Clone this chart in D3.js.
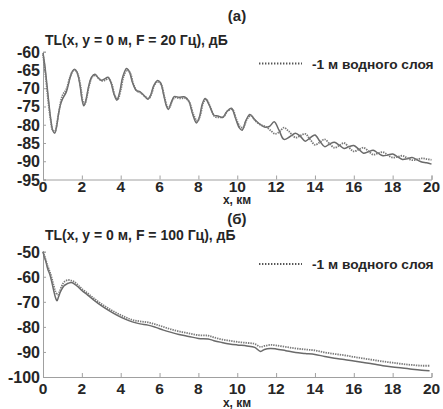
<!DOCTYPE html>
<html><head><meta charset="utf-8">
<script src="https://cdn.jsdelivr.net/npm/d3@7"></script>
<style>
html,body{margin:0;padding:0;background:#fff;}
svg text{font-family:"Liberation Sans",Arial,sans-serif;font-weight:bold;fill:#262626;}
</style></head>
<body>
<svg id="c" width="443" height="409"></svg>
<script>
// ---------- DATA ----------
const xTicks = [0,2,4,6,8,10,12,14,16,18,20];
const yTicksA = [-60,-65,-70,-75,-80,-85,-90,-95];
const yTicksB = [-50,-60,-70,-80,-90,-100];
const legendLabel = "-1 м водного слоя";
const titleA = "TL(x, y = 0 м, F = 20 Гц), дБ";
const titleB = "TL(x, y = 0 м, F = 100 Гц), дБ";
const panelA = "(а)";
const panelB = "(б)";
const xLabel = "x, км";

// 20 Hz, base
const tl20Solid = [
[0,-60.3],[0.1,-64],[0.2,-69],[0.3,-74],[0.4,-78.5],[0.5,-81.5],[0.6,-82.3],[0.7,-80.5],[0.8,-77],[0.9,-74.5],[1.0,-73],[1.2,-71],[1.4,-67],[1.5,-65.5],[1.62,-64.8],[1.75,-65.6],[1.9,-69],[2.0,-72.8],[2.1,-74.8],[2.2,-73.5],[2.35,-69.5],[2.5,-67],[2.67,-66.2],[2.85,-67.2],[3.0,-67.8],[3.15,-67.5],[3.35,-67],[3.5,-68.5],[3.65,-71.5],[3.8,-73.3],[3.95,-71],[4.1,-67],[4.3,-64.6],[4.45,-65.5],[4.6,-68.3],[4.8,-70.6],[5.0,-71],[5.2,-72],[5.4,-73],[5.55,-71.8],[5.7,-69.3],[5.9,-67.9],[6.05,-68.5],[6.2,-71.5],[6.35,-74.8],[6.45,-75.8],[6.6,-74],[6.75,-72.3],[7.0,-72.5],[7.3,-72.4],[7.5,-73.5],[7.7,-77],[7.9,-79.5],[8.05,-78],[8.2,-74.3],[8.35,-72.8],[8.55,-74.5],[8.8,-77.4],[9.0,-77.6],[9.25,-78],[9.45,-76.5],[9.7,-75.5],[9.9,-78],[10.1,-80.8],[10.25,-81.5],[10.45,-78.8],[10.65,-77.2],[10.9,-78.6],[11.15,-79.8],[11.4,-80.6],[11.65,-80.5],[11.9,-79.2],[12.15,-81.5],[12.4,-84],[12.7,-83.3],[13.0,-82.3],[13.25,-83.2],[13.5,-84.5],[13.75,-83.6],[14.0,-82.8],[14.25,-84.5],[14.5,-86],[14.75,-85.3],[15.0,-84.8],[15.25,-85.6],[15.5,-86.5],[15.75,-86],[16.0,-85.7],[16.25,-86.7],[16.5,-87.8],[16.75,-87.4],[17.0,-87],[17.25,-87.8],[17.5,-88.5],[17.75,-88.3],[18.0,-88],[18.25,-88.8],[18.5,-89.5],[18.75,-89.3],[19.0,-89],[19.25,-89.6],[19.5,-90.2],[19.75,-90.4],[20.0,-90.8]
];
// 20 Hz, -1 m water layer
const tl20Dotted = [
[0,-60.8],[0.1,-65],[0.2,-70],[0.3,-75],[0.4,-79],[0.5,-81.5],[0.62,-81.8],[0.72,-79.5],[0.85,-75.5],[1.0,-72],[1.2,-70.3],[1.4,-66.8],[1.55,-65.2],[1.65,-65],[1.8,-66.3],[1.95,-70],[2.05,-73.5],[2.15,-74.3],[2.25,-72.5],[2.4,-68.8],[2.55,-66.8],[2.7,-66.5],[2.9,-67.5],[3.05,-68],[3.2,-67.8],[3.38,-67.3],[3.55,-69],[3.7,-72],[3.85,-73],[4.0,-70.5],[4.15,-66.8],[4.33,-65],[4.5,-66],[4.65,-68.8],[4.85,-70.8],[5.05,-71.3],[5.25,-72.3],[5.45,-72.8],[5.6,-71.3],[5.75,-69],[5.92,-68.2],[6.1,-69.2],[6.25,-72.3],[6.4,-75],[6.5,-75.3],[6.65,-73.5],[6.8,-72.5],[7.05,-72.8],[7.35,-72.8],[7.55,-74],[7.75,-77.3],[7.95,-79],[8.1,-77.3],[8.25,-74],[8.4,-73],[8.6,-75],[8.85,-77.8],[9.05,-78],[9.3,-77.8],[9.5,-76.2],[9.75,-75.8],[9.95,-78.5],[10.15,-80.5],[10.3,-80.8],[10.5,-78.5],[10.7,-77.5],[10.95,-79],[11.2,-80],[11.45,-80.5],[11.7,-81.5],[11.95,-82.5],[12.2,-81.8],[12.4,-80.8],[12.65,-81.8],[13.0,-83.5],[13.25,-83],[13.5,-82.5],[13.75,-84],[14.0,-85.5],[14.25,-84.8],[14.5,-84],[14.75,-85.2],[15.0,-86.3],[15.25,-85.7],[15.5,-85],[15.75,-86.2],[16.0,-87.3],[16.25,-86.8],[16.5,-86.3],[16.75,-87.2],[17.0,-88.2],[17.25,-87.8],[17.5,-87.5],[17.75,-88.3],[18.0,-89],[18.25,-88.8],[18.5,-88.5],[18.75,-89.1],[19.0,-89.7],[19.25,-89.5],[19.5,-89.2],[19.75,-89.4],[20.0,-89.6]
];
// 100 Hz, base
const tl100Solid = [
[0,-50],[0.05,-51.5],[0.15,-54],[0.25,-57],[0.35,-59],[0.45,-62],[0.55,-65.5],[0.65,-68.5],[0.72,-69.6],[0.8,-68],[0.9,-66],[1.0,-64.5],[1.1,-63.5],[1.2,-63],[1.3,-62.6],[1.45,-62.3],[1.6,-62.8],[1.8,-64],[2.0,-65.5],[2.3,-67.3],[2.6,-69.2],[3.0,-71.5],[3.4,-73.5],[3.8,-75.3],[4.2,-76.8],[4.6,-78],[5.0,-78.8],[5.4,-79.3],[5.8,-80.2],[6.2,-81.3],[6.6,-82.2],[7.0,-83],[7.5,-83.8],[8.0,-84.6],[8.5,-84.8],[8.8,-85.5],[9.2,-86.2],[9.6,-86.8],[10.0,-87.2],[10.5,-87.6],[10.9,-88.2],[11.2,-89.8],[11.4,-89],[11.7,-88.6],[12.0,-88.8],[12.5,-89.5],[13.0,-90.2],[13.5,-90.6],[14.0,-91],[14.5,-91.8],[15.0,-92.5],[15.5,-93],[16.0,-93.6],[16.5,-94.2],[17.0,-94.8],[17.5,-95.5],[18.0,-96],[18.5,-96.4],[19.0,-96.9],[19.5,-97.3],[19.9,-97.5]
];
// 100 Hz, -1 m water layer
const tl100Dotted = [
[0,-50],[0.05,-51],[0.15,-53.5],[0.25,-56],[0.35,-58],[0.45,-60.5],[0.55,-63.5],[0.65,-66],[0.75,-67.2],[0.85,-66],[0.95,-64],[1.05,-62.5],[1.15,-61.7],[1.3,-61.3],[1.45,-61.5],[1.6,-62],[1.8,-63.3],[2.0,-64.8],[2.3,-66.6],[2.6,-68.5],[3.0,-70.8],[3.4,-72.8],[3.8,-74.5],[4.2,-76],[4.6,-77.2],[5.0,-77.8],[5.4,-78.2],[5.8,-79],[6.2,-80],[6.6,-81],[7.0,-81.8],[7.5,-82.6],[8.0,-83.3],[8.5,-83.5],[8.8,-84.2],[9.2,-85],[9.6,-85.5],[10.0,-86],[10.5,-86.4],[10.9,-86.8],[11.2,-88],[11.4,-87.6],[11.7,-87.2],[12.0,-87.4],[12.5,-88],[13.0,-88.6],[13.5,-89],[14.0,-89.4],[14.5,-90.2],[15.0,-90.8],[15.5,-91.3],[16.0,-92],[16.5,-92.6],[17.0,-93.2],[17.5,-93.8],[18.0,-94.3],[18.5,-94.8],[19.0,-95.2],[19.5,-95.5],[19.9,-95.5]
];

// ---------- DRAW ----------
const svg = d3.select("#c");
const x = d3.scaleLinear().domain([0,20]).range([43,431.5]);

function panel(cfg){
  const y = d3.scaleLinear().domain(cfg.yDomain).range(cfg.yRange);
  const g = svg.append("g");
  const xa = g.append("g").attr("transform",`translate(0,${cfg.yRange[0]})`)
    .call(d3.axisTop(x).tickValues(xTicks).tickSize(4).tickFormat(""));
  xa.select(".domain").attr("stroke","#a0a0a0");
  xa.selectAll(".tick line").attr("stroke","#a0a0a0");
  const ya = g.append("g").attr("transform",`translate(${x(0)},0)`)
    .call(d3.axisRight(y).tickValues(cfg.yTicks).tickSize(3).tickFormat(""));
  ya.select(".domain").attr("stroke","#a0a0a0");
  ya.selectAll(".tick line").attr("stroke","#a0a0a0");
  g.selectAll(".xl").data(xTicks).join("text")
    .attr("x",d=>x(d)).attr("y",cfg.yRange[0]+cfg.xTickDy)
    .attr("text-anchor","middle").attr("font-size",15.5).text(d=>d);
  g.selectAll(".yl").data(cfg.yTicks).join("text")
    .attr("x",40).attr("y",d=>y(d)+6)
    .attr("text-anchor","end").attr("font-size",16).text(d=>d);
  const line = d3.line().x(d=>x(d[0])).y(d=>y(d[1])).curve(d3.curveCatmullRom);
  g.append("path").datum(cfg.solid).attr("d",line)
    .attr("fill","none").attr("stroke","#6a6a6a").attr("stroke-width",1.5);
  g.append("path").datum(cfg.dotted).attr("d",line)
    .attr("fill","none").attr("stroke","#7a7a7a").attr("stroke-width",1.8)
    .attr("stroke-dasharray","1.4,1");
  g.append("text").attr("x",237).attr("y",cfg.panelY).attr("text-anchor","middle")
    .attr("font-size",15).attr("font-weight","normal").text(cfg.panel);
  g.append("text").attr("x",45).attr("y",cfg.titleY).attr("font-size",14).text(cfg.title);
  g.append("text").attr("x",237).attr("y",cfg.xLabelY).attr("text-anchor","middle")
    .attr("font-size",12).text(xLabel);
  g.append("line").attr("x1",cfg.legX).attr("x2",302).attr("y1",cfg.legY).attr("y2",cfg.legY)
    .attr("stroke","#555").attr("stroke-width",1.8).attr("stroke-dasharray","1.4,1.6");
  g.append("text").attr("x",312).attr("y",cfg.legY+5).attr("font-size",13.7).text(legendLabel);
}

panel({yDomain:[-95,-60], yRange:[179.5,51.7], yTicks:yTicksA, solid:tl20Solid, dotted:tl20Dotted,
  panel:panelA, panelY:21, title:titleA, titleY:45, xLabelY:204, xTickDy:12, legX:259, legY:63.5});
panel({yDomain:[-100,-50], yRange:[377,251.7], yTicks:yTicksB, solid:tl100Solid, dotted:tl100Dotted,
  panel:panelB, panelY:224, title:titleB, titleY:240, xLabelY:407, xTickDy:17, legX:259, legY:264});
</script>
</body></html>
